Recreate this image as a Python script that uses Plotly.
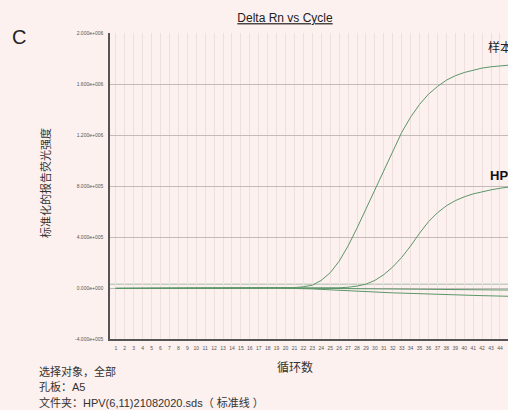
import plotly.graph_objects as go

cycles = list(range(1, 46))

sample_vals = [-3000, -2500, -2000, -2000, -1500, -1500, -1000, -1000, -1000, -500,
               -500, 0, 0, 0, 0, 500, 500, 1000, 1000, 1500,
               3000, 10000, 22000, 60000, 120000, 210000, 330000, 470000, 620000, 780000,
               930000, 1080000, 1220000, 1340000, 1440000, 1520000, 1580000, 1630000, 1665000, 1690000,
               1710000, 1725000, 1735000, 1742000, 1748000]

hpv_vals = [-3000, -2500, -2000, -2000, -1500, -1500, -1000, -1000, -1000, -500,
            -500, 0, 0, 0, 0, 0, 0, 0, 0, 0,
            0, 0, 0, 500, 1000, 2000, 6000, 15000, 30000, 60000,
            105000, 165000, 240000, 330000, 430000, 520000, 590000, 645000, 685000, 715000,
            738000, 755000, 770000, 782000, 792000]

neg1_vals = [-3000, -2500, -2000, -2000, -1500, -1500, -1000, -1000, -1000, -500,
             -500, 0, 0, 0, 0, 0, 0, 0, -500, -1000,
             -2000, -3000, -7000, -11000, -15000, -19000, -23000, -27000, -30000, -33000,
             -36000, -38000, -40000, -43000, -45000, -48000, -50000, -52000, -54000, -56000,
             -58000, -60000, -62000, -64000, -65000]

neg2_vals = [-3000, -2500, -2000, -2000, -1500, -1500, -1000, -1000, -1000, -500,
             -500, 0, 0, 0, 0, 0, 0, 0, 0, -500,
             -1000, -1500, -2500, -3500, -4500, -5500, -6500, -7500, -8000, -8500,
             -9000, -9500, -10000, -10500, -11000, -11500, -12000, -12500, -13000, -13500,
             -14000, -14500, -15000, -15500, -16000]

threshold = 30000

y_tickvals = [-400000, 0, 400000, 800000, 1200000, 1600000, 2000000]
y_ticktext = ["-4.000e+005", "0.000e+000", "4.000e+005", "8.000e+005",
              "1.200e+006", "1.600e+006", "2.000e+006"]

title_text = "Delta Rn vs Cycle"
y_title = "标准化的报告荧光强度"
x_title = "循环数"
panel_label = "C"
info_lines = ["选择对象，全部", "孔板：A5", "文件夹：HPV(6,11)21082020.sds（ 标准线 ）"]
label_sample = "样本1"
label_hpv = "HPV(6,11)"

W, H = 508, 410
L, R, T, B = 110, 0, 33, 71
PW = W - L - R
PH = H - T - B

def px(x):
    return (x - L) / PW

def py(y):
    return (H - B - y) / PH

FONT = "Liberation Sans, Arial, Noto Sans CJK SC, sans-serif"
CJK = "Noto Sans CJK SC, Liberation Sans, sans-serif"
GREEN = "#5b9668"
BG = "#fcf1ef"

fig = go.Figure()
for vals in [neg2_vals, neg1_vals, hpv_vals, sample_vals]:
    fig.add_trace(go.Scatter(x=cycles, y=vals, mode="lines",
                             line=dict(color=GREEN, width=1), showlegend=False,
                             hoverinfo="skip"))

fig.add_shape(type="line", xref="paper", yref="y", x0=0, x1=1, y0=threshold, y1=threshold,
              line=dict(color="#a9bda9", width=1), layer="below")

fig.update_layout(
    width=W, height=H,
    margin=dict(l=L, r=R, t=T, b=B, pad=0),
    paper_bgcolor=BG, plot_bgcolor=BG,
    font=dict(family=FONT, color="#222"),
    showlegend=False,
    title=dict(text="<u>" + title_text + "</u>", xref="container", yref="container",
               x=285 / W, y=1 - 18 / H, xanchor="center", yanchor="middle",
               font=dict(family=FONT, size=12, color="#222")),
    xaxis=dict(range=[0.35, 44.9], tickmode="array", tickvals=cycles,
               ticktext=[str(c) for c in cycles], showgrid=True, gridcolor="#efdfdf",
               gridwidth=1, zeroline=False, showline=True, linecolor="#555", linewidth=1.5,
               ticks="", tickfont=dict(size=5, color="#555"), ticklabelstandoff=3),
    yaxis=dict(range=[-400000, 2000000], tickmode="array", tickvals=y_tickvals,
               ticktext=y_ticktext, showgrid=True, gridcolor="#c4baba", gridwidth=1,
               zeroline=False, showline=True, linecolor="#555", linewidth=1.5,
               ticks="", tickfont=dict(size=5, color="#555"), ticklabelstandoff=4),
)

ann = [
    dict(text=panel_label, x=px(10), y=py(37), xanchor="left", yanchor="middle",
         font=dict(family=FONT, size=20, color="#222")),
    dict(text=y_title, x=px(45), y=py(183), xanchor="center", yanchor="middle", textangle=-90,
         font=dict(family=CJK, size=11, color="#333")),
    dict(text=x_title, x=px(295), y=py(367), xanchor="center", yanchor="middle",
         font=dict(family=CJK, size=12, color="#333")),
    dict(text=label_sample, x=px(486), y=py(47), xanchor="left", yanchor="middle",
         font=dict(family=CJK, size=12, color="#222")),
    dict(text="<b>" + label_hpv + "</b>", x=px(488), y=py(175), xanchor="left", yanchor="middle",
         font=dict(family=FONT, size=13, color="#111")),
]
for i, line in enumerate(info_lines):
    ann.append(dict(text=line, x=px(37), y=py(371 + 15.5 * i), xanchor="left", yanchor="middle",
                    font=dict(family=FONT, size=11, color="#333")))
for a in ann:
    a.update(xref="paper", yref="paper", showarrow=False)
fig.update_layout(annotations=ann)

fig.write_html(
    "out.html",
    config={"displayModeBar": False},
    post_script="document.body.style.margin='0';document.body.style.overflow='hidden';"
                "document.documentElement.style.overflow='hidden';",
)
